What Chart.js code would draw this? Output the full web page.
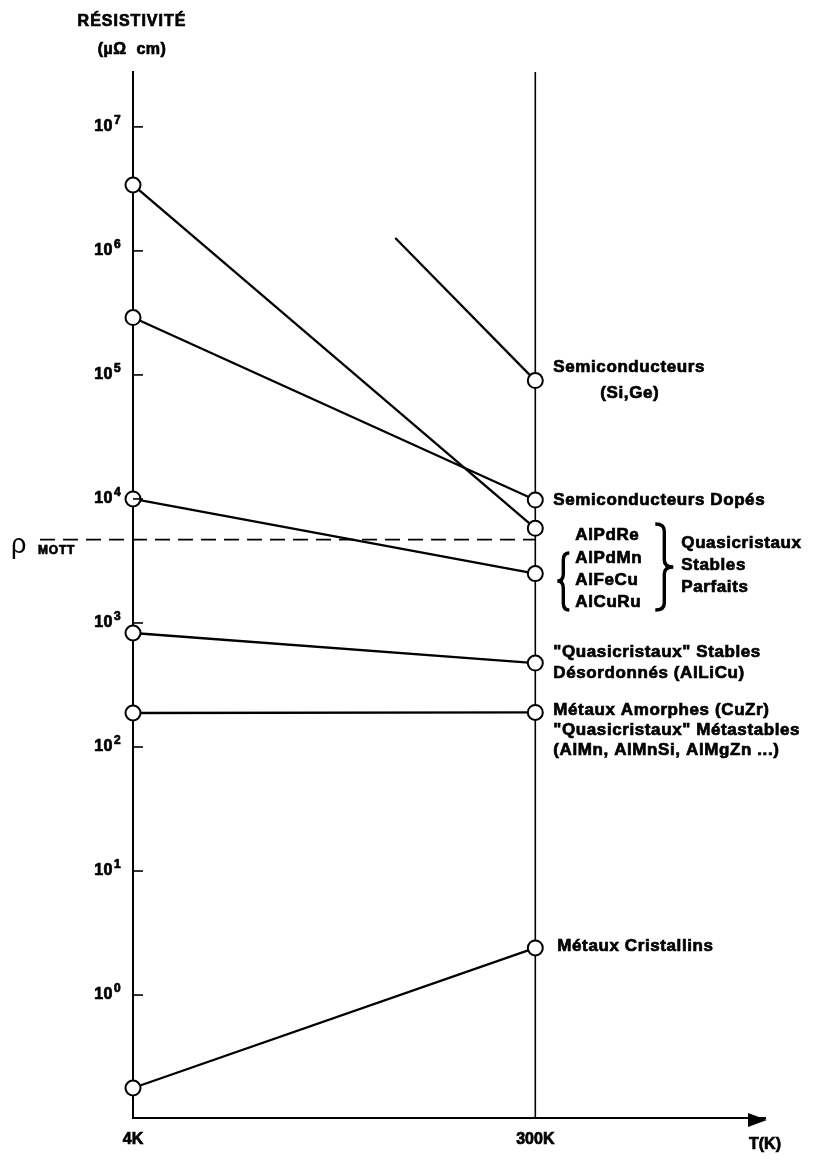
<!DOCTYPE html>
<html lang="fr">
<head>
<meta charset="utf-8">
<script src="https://cdn.jsdelivr.net/npm/chart.js"></script>
<title>Résistivité</title>
<style>
  html, body { margin: 0; background: #fff; }
  #wrap { width: 825px; height: 1162px; }
</style>
</head>
<body>
<div id="wrap"><canvas id="c" width="825" height="1162"></canvas></div>
<script>
// températures (K) des deux colonnes
const temps = [4, 300];
// résistivités (µΩ cm), à 4K puis à 300K
const rhoSemiDopes = [2.9e5, 9.8e3];
const rhoAlPdRe = [3.4e6, 5.8e3];
const rhoQcParfaits = [1.0e4, 2.5e3];
const rhoQcDesordonnes = [8.3e2, 4.75e2];
const rhoAmorphes = [1.88e2, 1.9e2];
const rhoCristallins = [0.178, 2.4];
// semiconducteurs : le trait commence vers 200K, sans point
const tempsSemi = [197, 300];
const rhoSemi = [1.27e6, 9.0e4];
const rhoMott = 4.7e3;

const yTickValues = [1, 10, 100, 1e3, 1e4, 1e5, 1e6, 1e7];
const yTickExponents = ['0', '1', '2', '3', '4', '5', '6', '7'];
const xTickValues = [4, 300];
const xTickLabels = ['4K', '300K'];

const FONT = '"Liberation Sans", Arial, sans-serif';

function serie(xs, ys, radii) {
  return {
    data: xs.map((x, i) => ({ x: x, y: ys[i] })),
    showLine: true,
    borderColor: '#000',
    borderWidth: 2.3,
    pointRadius: radii || 7.5,
    pointBackgroundColor: '#fff',
    pointBorderColor: '#000',
    pointBorderWidth: 2,
    clip: false
  };
}

// texte gras un peu épaissi (impression)
function txt(ctx, s, x, y, font, ls, align) {
  ctx.font = font;
  ctx.letterSpacing = ls || '0px';
  ctx.textAlign = align || 'left';
  ctx.textBaseline = 'middle';
  ctx.lineWidth = 0.7;
  ctx.fillText(s, x, y);
  ctx.strokeText(s, x, y);
}

// accolade : pointe en xTip, corps en xBody
function brace(ctx, xTip, xBody, yTop, yMid, yBot) {
  const xEnd = xBody + (xBody - xTip);
  const r = 7;
  ctx.beginPath();
  ctx.moveTo(xEnd, yTop);
  ctx.quadraticCurveTo(xBody, yTop, xBody, yTop + r);
  ctx.lineTo(xBody, yMid - r);
  ctx.quadraticCurveTo(xBody, yMid, xTip, yMid);
  ctx.quadraticCurveTo(xBody, yMid, xBody, yMid + r);
  ctx.lineTo(xBody, yBot - r);
  ctx.quadraticCurveTo(xBody, yBot, xEnd, yBot);
  ctx.stroke();
}

// étiquettes à droite (décalage en x par rapport au trait 300K, y en pixels)
const rightLabels = [
  ['Semiconducteurs', 18, 367],
  ['(Si,Ge)', 65, 393],
  ['Semiconducteurs Dopés', 18, 500],
  ['AlPdRe', 40, 535],
  ['AlPdMn', 40, 558],
  ['AlFeCu', 40, 580],
  ['AlCuRu', 40, 602],
  ['Quasicristaux', 146, 543],
  ['Stables', 146, 565],
  ['Parfaits', 146, 587],
  ['"Quasicristaux" Stables', 18, 652],
  ['Désordonnés (AlLiCu)', 18, 673],
  ['Métaux Amorphes (CuZr)', 18, 710],
  ['"Quasicristaux" Métastables', 18, 730],
  ['(AlMn, AlMnSi, AlMgZn ...)', 18, 750],
  ['Métaux Cristallins', 22, 946]
];

const deco = {
  id: 'deco',
  beforeDatasetsDraw(chart) {
    const { ctx, chartArea: a, scales: { x, y } } = chart;
    const x300 = x.getPixelForValue(300);
    ctx.save();
    ctx.strokeStyle = '#000';
    ctx.lineWidth = 1.6;
    ctx.beginPath();
    ctx.moveTo(x300, a.top);
    ctx.lineTo(x300, a.bottom);
    ctx.stroke();
    // rho Mott
    const ym = y.getPixelForValue(rhoMott);
    ctx.setLineDash([15, 8]);
    ctx.lineWidth = 1.6;
    ctx.beginPath();
    ctx.moveTo(a.left - 93, ym);
    ctx.lineTo(x300, ym);
    ctx.stroke();
    ctx.restore();
  },
  afterDraw(chart) {
    const { ctx, chartArea: a, scales: { x, y } } = chart;
    const x300 = x.getPixelForValue(300);
    ctx.save();
    ctx.strokeStyle = '#000';
    ctx.fillStyle = '#000';

    // graduations vers l'intérieur et étiquettes 10^n
    yTickValues.forEach((v, i) => {
      const py = y.getPixelForValue(v);
      ctx.lineWidth = 1.6;
      ctx.beginPath();
      ctx.moveTo(a.left, py);
      ctx.lineTo(a.left + 10, py);
      ctx.stroke();
      txt(ctx, '10', a.left - 20, py, 'bold 16px ' + FONT, '0.5px', 'right');
      txt(ctx, yTickExponents[i], a.left - 19, py - 6, 'bold 12px ' + FONT, '0px', 'left');
    });

    // étiquettes de l'axe T
    xTickValues.forEach((v, i) => {
      txt(ctx, xTickLabels[i], x.getPixelForValue(v), a.bottom + 22, 'bold 16px ' + FONT, '0px', 'center');
    });

    // flèche de l'axe T
    ctx.beginPath();
    ctx.moveTo(a.right + 2, a.bottom + 2);
    ctx.lineTo(a.right - 17, a.bottom - 5);
    ctx.lineTo(a.right - 17, a.bottom + 9);
    ctx.closePath();
    ctx.fill();

    // titres
    txt(ctx, 'RÉSISTIVITÉ', 132, 22, 'bold 16px ' + FONT, '1px', 'center');
    txt(ctx, '(µΩ  cm)', 132, 50, 'bold 16px ' + FONT, '0.5px', 'center');
    txt(ctx, 'T(K)', a.right, 1145, 'bold 16px ' + FONT, '0px', 'center');

    // rho Mott
    const ym = y.getPixelForValue(rhoMott);
    ctx.font = '27px ' + FONT;
    ctx.letterSpacing = '0px';
    ctx.textAlign = 'left';
    ctx.textBaseline = 'alphabetic';
    ctx.fillText('ρ', 11, ym + 13);
    txt(ctx, 'MOTT', 38, ym + 11, 'bold 12px ' + FONT, '0.8px', 'left');

    // étiquettes
    rightLabels.forEach(l => txt(ctx, l[0], x300 + l[1], l[2], 'bold 17px ' + FONT, '0.6px'));

    // accolades
    ctx.lineWidth = 3.4;
    brace(ctx, x300 + 22, x300 + 28, 553, 581, 610);
    brace(ctx, x300 + 138, x300 + 129, 524, 567, 610);
    ctx.restore();
  }
};

new Chart(document.getElementById('c'), {
  type: 'scatter',
  data: {
    datasets: [
      serie(tempsSemi, rhoSemi, [0, 7.5]),
      serie(temps, rhoAlPdRe),
      serie(temps, rhoSemiDopes),
      serie(temps, rhoQcParfaits),
      serie(temps, rhoQcDesordonnes),
      serie(temps, rhoAmorphes),
      serie(temps, rhoCristallins)
    ]
  },
  options: {
    responsive: false,
    animation: false,
    events: [],
    layout: { padding: { top: 72, right: 60, left: 0, bottom: 0 } },
    plugins: { legend: { display: false }, tooltip: { enabled: false } },
    scales: {
      x: {
        type: 'linear',
        min: 4,
        max: 469,
        grid: { display: false },
        border: { display: true, color: '#000', width: 2 },
        afterBuildTicks: s => { s.ticks = xTickValues.map(v => ({ value: v })); },
        afterFit: s => { s.height = 44; },
        ticks: { display: false }
      },
      y: {
        type: 'logarithmic',
        min: 0.102,
        max: 2.77e7,
        grid: { display: false },
        border: { display: true, color: '#000', width: 2 },
        afterBuildTicks: s => { s.ticks = yTickValues.map(v => ({ value: v })); },
        afterFit: s => { s.width = 133; },
        ticks: { display: false }
      }
    }
  },
  plugins: [deco]
});
</script>
</body>
</html>
